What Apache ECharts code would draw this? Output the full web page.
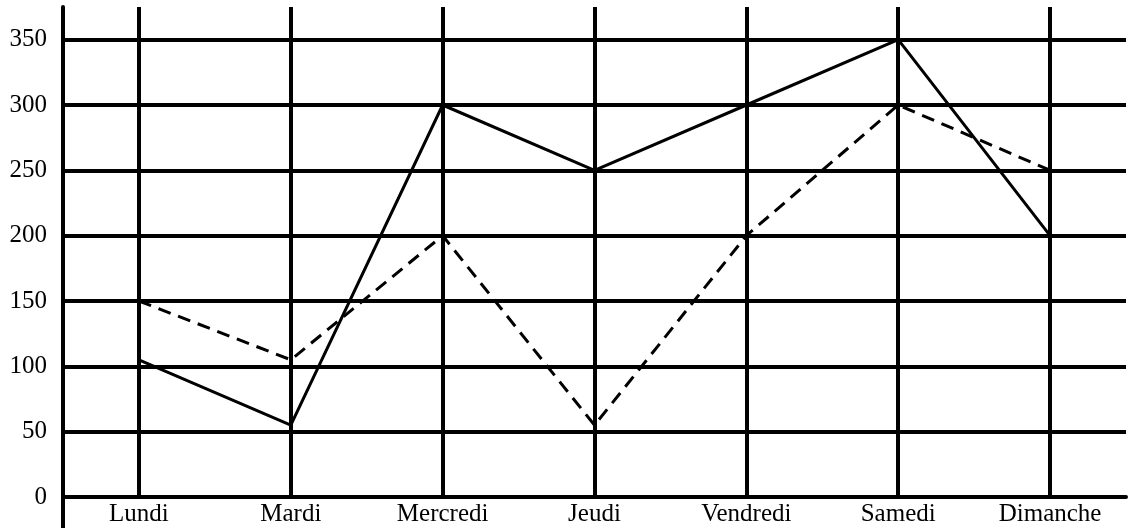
<!DOCTYPE html>
<html>
<head>
<meta charset="utf-8">
<script src="https://cdn.jsdelivr.net/npm/echarts@6/dist/echarts.min.js"></script>
<style>
html, body { margin: 0; padding: 0; background: #fff; }
#chart { width: 1140px; height: 528px; }
</style>
</head>
<body>
<div id="chart"></div>
<script>
// jours de la semaine
const jours = ['Lundi', 'Mardi', 'Mercredi', 'Jeudi', 'Vendredi', 'Samedi', 'Dimanche'];
// serie en trait plein
const serieA = [105, 55, 300, 250, 300, 350, 200];
// serie en pointilles
const serieB = [150, 105, 200, 55, 200, 300, 250];

const chart = echarts.init(document.getElementById('chart'));
const police = 'Liberation Serif, Times New Roman, serif';

const option = {
  animation: false,
  grid: { left: 63, right: 14, top: 7, bottom: 31 },
  xAxis: {
    type: 'category',
    data: jours,
    boundaryGap: true,
    axisLine: { show: true, lineStyle: { color: '#000', width: 4 } },
    axisTick: { show: false },
    axisLabel: { color: '#000', fontFamily: police, fontSize: 25, margin: 5 },
    splitLine: { show: true, alignWithLabel: true, lineStyle: { color: '#000', width: 4 } }
  },
  yAxis: {
    type: 'value',
    min: 0,
    max: 375,
    interval: 50,
    axisLine: { show: true, lineStyle: { color: '#000', width: 4 } },
    axisTick: { show: false },
    axisLabel: { color: '#000', fontFamily: police, fontSize: 25, margin: 16, showMaxLabel: false },
    splitLine: { show: true, showMaxLine: false, lineStyle: { color: '#000', width: 4 } }
  },
  // prolongement de l'axe vertical sous l'axe des x
  graphic: [{
    type: 'line',
    shape: { x1: 63, y1: 497, x2: 63, y2: 528 },
    style: { stroke: '#000', lineWidth: 4 }
  }],
  series: [
    {
      type: 'line',
      data: serieA,
      symbol: 'none',
      lineStyle: { color: '#000', width: 3 }
    },
    {
      type: 'line',
      data: serieB,
      symbol: 'none',
      lineStyle: { color: '#000', width: 3, type: [13, 8] }
    }
  ]
};
chart.setOption(option);
</script>
</body>
</html>
